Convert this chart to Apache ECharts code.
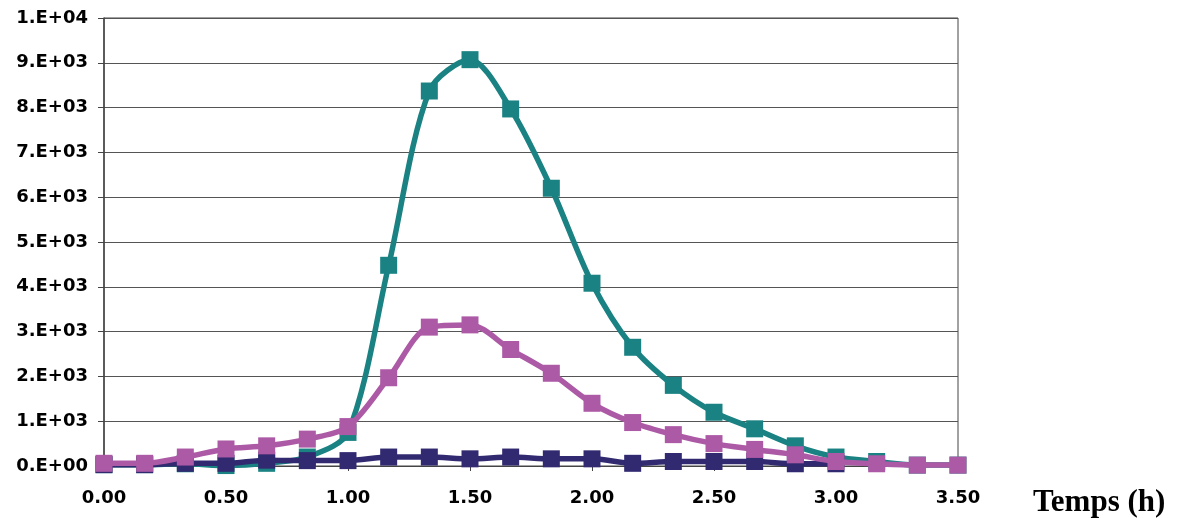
<!DOCTYPE html>
<html>
<head>
  <meta charset="utf-8">
  <style>
    html, body { margin: 0; padding: 0; width: 100%; height: 100%; overflow: hidden; background: #fff; }
  </style>
</head>
<body>
  <div id="container" style="width: 1188px; height: 518px;"></div>
  <script src="https://cdn.jsdelivr.net/npm/echarts@6/dist/echarts.min.js"></script>
  <script>
    // temps en heures, pas de 10 min
    var hours = [0, 0.1667, 0.3333, 0.5, 0.6667, 0.8333, 1.0, 1.1667, 1.3333, 1.5, 1.6667, 1.8333,
      2.0, 2.1667, 2.3333, 2.5, 2.6667, 2.8333, 3.0, 3.1667, 3.3333, 3.5];

    var tealVals = [30, 30, 50, 10, 60, 200, 750, 4480, 8370, 9070, 7970, 6200,
      4080, 2650, 1800, 1200, 830, 450, 200, 100, 20, 20];
    var pinkVals = [60, 60, 200, 380, 450, 600, 880, 1970, 3100, 3150, 2600, 2070,
      1400, 970, 700, 500, 370, 250, 100, 50, 20, 20];
    var navyVals = [30, 30, 60, 60, 130, 120, 120, 200, 200, 160, 200, 160,
      160, 60, 100, 100, 100, 50, 50];

    var xTicks = [0, 0.5, 1, 1.5, 2, 2.5, 3, 3.5];
    var yTicks = [0, 1000, 2000, 3000, 4000, 5000, 6000, 7000, 8000, 9000, 10000];

    var colors = ['#1a8282', '#ad5aa6', '#312a70'];

    function pairs(vals) {
      return vals.map(function (v, i) { return [hours[i], v]; });
    }

    function sci(v) {
      if (v === 0) return '0.E+00';
      var e = Math.floor(Math.log10(v));
      var m = Math.round(v / Math.pow(10, e));
      return m + '.E+' + (e < 10 ? '0' + e : e);
    }

    var myChart = echarts.init(document.getElementById('container'), null, { renderer: 'canvas' });

    function lineSeries(name, vals, color, z) {
      return {
        name: name,
        type: 'line',
        data: pairs(vals),
        smooth: 0.3,
        symbol: 'rect',
        symbolSize: 17,
        z: z,
        lineStyle: { width: 5.5, color: color },
        itemStyle: { color: color }
      };
    }

    var option = {
      animation: false,
      grid: { left: 104, right: 230, top: 18, bottom: 52, show: true, borderColor: '#444', borderWidth: 1 },
      xAxis: {
        type: 'value',
        min: 0, max: 3.5, interval: 0.5,
        axisLine: { show: true, onZero: false, lineStyle: { color: '#444', width: 1 } },
        axisTick: { show: true, length: 5, lineStyle: { color: '#444' } },
        splitLine: { show: false },
        axisLabel: {
          color: '#000', fontFamily: 'DejaVu Sans', fontWeight: 'bold', fontSize: 18, margin: 23,
          formatter: function (v) { return xTicks.indexOf(v) >= 0 ? v.toFixed(2) : ''; }
        },
        name: 'Temps (h)',
        nameLocation: 'end',
        nameGap: 0,
        nameTextStyle: {
          color: '#000', fontFamily: 'Liberation Serif, Times New Roman', fontWeight: 'bold', fontSize: 31,
          align: 'left', verticalAlign: 'top', padding: [21, 0, 0, 75]
        }
      },
      yAxis: {
        type: 'value',
        min: 0, max: 10000, interval: 1000,
        axisLine: { show: true, lineStyle: { color: '#444', width: 1.5 } },
        axisTick: { show: true, length: 6, lineStyle: { color: '#444' } },
        splitLine: { show: true, lineStyle: { color: '#555', width: 1.2 } },
        axisLabel: {
          color: '#000', fontFamily: 'DejaVu Sans', fontWeight: 'bold', fontSize: 18, margin: 16,
          formatter: function (v) { return yTicks.indexOf(v) >= 0 ? sci(v) : ''; }
        }
      },
      series: [
        lineSeries('teal', tealVals, colors[0], 2),
        lineSeries('navy', navyVals, colors[2], 3),
        lineSeries('pink', pinkVals, colors[1], 4)
      ]
    };

    myChart.setOption(option);
    window.addEventListener('resize', myChart.resize);
  </script>
</body>
</html>
